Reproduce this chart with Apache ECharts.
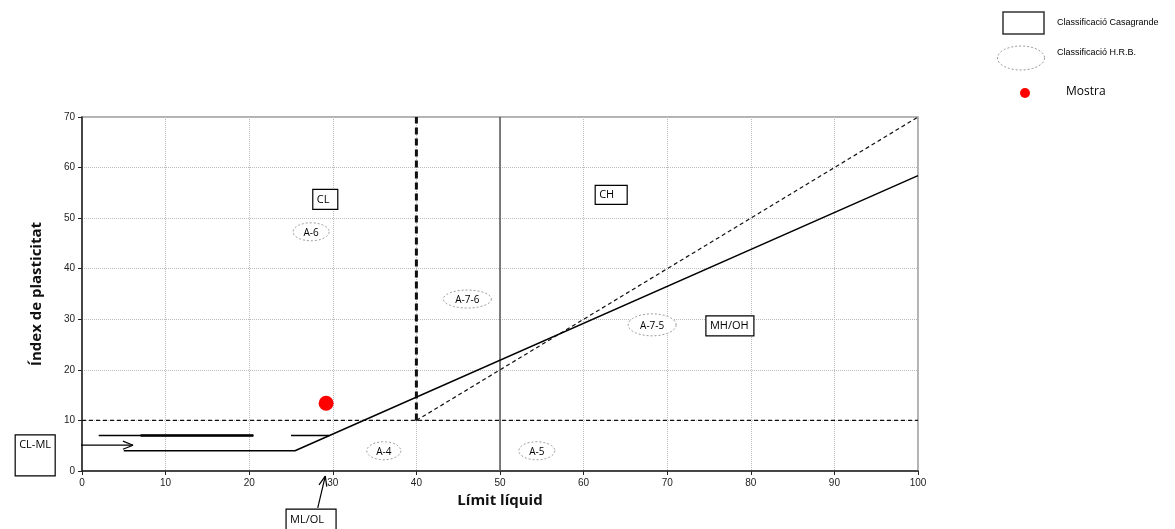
<!DOCTYPE html>
<html><head><meta charset="utf-8">
<script src="https://cdn.jsdelivr.net/npm/echarts@6/dist/echarts.min.js"></script>
<style>html,body{margin:0;padding:0;background:#fff}#c{width:1175px;height:529px}</style>
</head><body><div id="c"></div>
<script>
// ---- data ----
const xTicks = [0,10,20,30,40,50,60,70,80,90,100];
const yTicks = [0,10,20,30,40,50,60,70];
const sample = [[29.2, 13.4]];
const aLine = [[5,4],[25.48,4],[100,58.4]];
const upperThin = [[2,7],[20.5,7]];
const upperThick = [[7,7],[20.5,7]];
const upperShort = [[25,7],[29.6,7]];
const pi10 = [[0,10],[100,10]];
const ll40 = [[40,10],[40,70]];
const ll50 = [[50,0],[50,70]];
const hrbDiag = [[40,10],[100,70]];
const arrowClml = [[-2.3,5.1],[6.1,5.1]];
const arrowClmlHead = [[4.9,5.9],[6.1,5.1],[4.9,4.3]];
const arrowMlol = [[28.2,-7.3],[29.1,-1.0]];
const arrowMlolHead = [[29.28,-3.1],[29.1,-1.0],[28.35,-2.75]];
const casaLabels = ['CL','CH','MH/OH','CL-ML','ML/OL'];
const casaLL = [29.1, 63.3, 77.5, -5.6, 27.4];
const casaPI = [53.7, 54.6, 28.7, 3.1, -10.1];
const hrbLabels = ['A-6','A-7-6','A-7-5','A-4','A-5'];
const hrbLL = [27.4, 46.1, 68.2, 36.1, 54.4];
const hrbPI = [47.3, 34.0, 28.9, 4.0, 4.0];

// ---- styles ----
const boxSize = {'CL':[25,20],'CH':[32,19],'MH/OH':[48,20],'CL-ML':[40,41],'ML/OL':[50,26]};
const ellSize = {'A-6':[36,18],'A-7-6':[48,18],'A-7-5':[48,22],'A-4':[34,18],'A-5':[36,18]};
const labelFont = '11px "Open Sans", sans-serif';

function ellPts(cx, cy, w, h) {
  const pts = [];
  for (let k = 0; k < 72; k++) {
    const a = k / 72 * Math.PI * 2;
    pts.push([cx + w/2*Math.cos(a), cy + h/2*Math.sin(a)]);
  }
  return pts;
}

function seg(data, w, color, type, z) {
  return {type:'line', data, symbol:'none', silent:true, clip:false, animation:false, z: z||3,
    lineStyle:{width:w, color, type: type||'solid'}};
}

const chart = echarts.init(document.getElementById('c'), null, {renderer:'canvas'});
const option = {
  animation:false,
  backgroundColor:'#fff',
  grid:{left:82, right:257, top:117, bottom:58, show:true, borderColor:'#999', borderWidth:1.5, backgroundColor:'transparent'},
  xAxis:{type:'value', min:xTicks[0], max:xTicks[xTicks.length-1], interval:10,
    name:'Límit líquid', nameLocation:'middle', nameGap:21,
    nameTextStyle:{fontFamily:'"Open Sans", sans-serif', fontWeight:'bold', fontSize:15, color:'#111'},
    axisLine:{lineStyle:{color:'#222', width:1.5}},
    axisTick:{show:true, length:4, lineStyle:{color:'#222'}},
    axisLabel:{color:'#222', fontSize:10, fontFamily:'"Liberation Sans", Arial', margin:7},
    splitLine:{show:true, lineStyle:{type:'dotted', color:'#bbb'}}},
  yAxis:{type:'value', min:yTicks[0], max:yTicks[yTicks.length-1], interval:10,
    name:'Índex de plasticitat', nameLocation:'middle', nameGap:38,
    nameTextStyle:{fontFamily:'"Open Sans", sans-serif', fontWeight:'bold', fontSize:15, color:'#111'},
    axisLine:{show:true, lineStyle:{color:'#222', width:1.5}},
    axisTick:{show:true, length:4, lineStyle:{color:'#222'}},
    axisLabel:{color:'#222', fontSize:10, fontFamily:'"Liberation Sans", Arial', margin:7},
    splitLine:{show:true, lineStyle:{type:'dotted', color:'#bbb'}}},
  series:[
    seg(ll50, 1.5, '#555', 'solid', 2),
    seg(pi10, 1.2, '#111', [4,3]),
    seg(hrbDiag, 1.2, '#111', [4,3]),
    seg(ll40, 3, '#111', [7,4]),
    seg(aLine, 1.5, '#000'),
    seg(upperThin, 1.5, '#000'),
    seg(upperThick, 2.5, '#000'),
    seg(upperShort, 1.5, '#000'),
    seg(arrowClml, 1.2, '#000'),
    seg(arrowClmlHead, 1.2, '#000'),
    seg(arrowMlol, 1.2, '#000'),
    seg(arrowMlolHead, 1.2, '#000'),
    {type:'scatter', data:sample, symbolSize:15, itemStyle:{color:'#ff0000', opacity:1}, z:5, silent:true},
    {type:'custom', clip:false, silent:true, z:6,
      data: casaLabels.map((t,i)=>[casaLL[i], casaPI[i]]),
      renderItem:(params, api)=>{
        const t = casaLabels[params.dataIndex];
        const p = api.coord([api.value(0), api.value(1)]);
        const s = boxSize[t];
        const x0 = p[0]-s[0]/2, y0 = p[1]-s[1]/2;
        const top = (t==='CL-ML');
        return {type:'group', children:[
          {type:'rect', shape:{x:x0, y:y0, width:s[0], height:s[1]}, style:{fill:'#fff', stroke:'#000', lineWidth:1.2}},
          {type:'text', style:{x:x0+4, y: top ? y0+10 : (t==='ML/OL' ? y0+11 : p[1]), text:t, font:labelFont, fill:'#000', align:'left', verticalAlign:'middle'}}
        ]};
      }},
    {type:'custom', clip:false, silent:true, z:6,
      data: hrbLabels.map((t,i)=>[hrbLL[i], hrbPI[i]]),
      renderItem:(params, api)=>{
        const t = hrbLabels[params.dataIndex];
        const p = api.coord([api.value(0), api.value(1)]);
        const s = ellSize[t];
        return {type:'group', children:[
          {type:'polygon', shape:{points: ellPts(p[0], p[1], s[0], s[1])},
            style:{fill:'#fff', stroke:'#999', lineWidth:1, lineDash:[2,2]}},
          {type:'text', style:{x:p[0], y:p[1]+1, text:t, font:'10px "Open Sans", sans-serif', fill:'#000', align:'center', verticalAlign:'middle'}}
        ]};
      }}
  ],
  graphic:[
    {type:'rect', shape:{x:1003, y:12, width:41, height:22}, style:{fill:'#fff', stroke:'#333', lineWidth:1.5}},
    {type:'text', x:1057, y:23, style:{text:'Classificació Casagrande', font:'9px "Liberation Sans", Arial', fill:'#000', verticalAlign:'middle'}},
    {type:'polygon', shape:{points: ellPts(1021, 58, 47, 24)}, style:{fill:'none', stroke:'#999', lineWidth:1, lineDash:[2,2]}},
    {type:'text', x:1057, y:53, style:{text:'Classificació H.R.B.', font:'9px "Liberation Sans", Arial', fill:'#000', verticalAlign:'middle'}},
    {type:'circle', shape:{cx:1025, cy:93, r:5}, style:{fill:'#ff0000'}},
    {type:'text', x:1066, y:92, style:{text:'Mostra', font:'12px "Open Sans", sans-serif', fill:'#000', verticalAlign:'middle'}}
  ]
};
chart.setOption(option);
</script></body></html>
